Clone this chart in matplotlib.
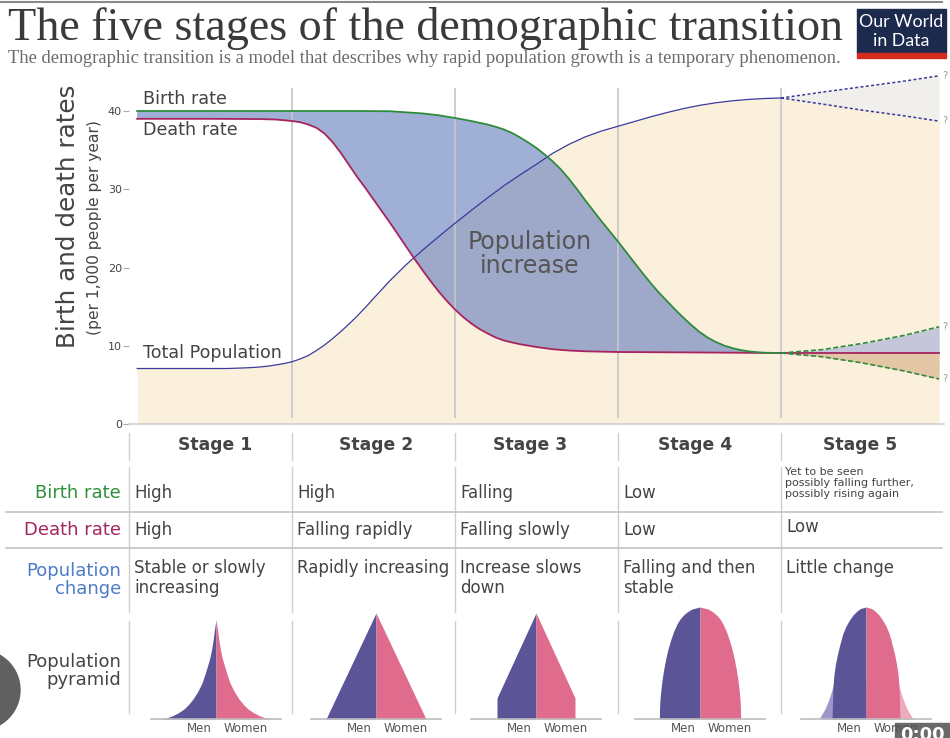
import numpy as np
import matplotlib.pyplot as plt
from matplotlib.patches import Rectangle, Circle

# ---- chart data: x in stage units (stage k spans k-1 .. k) ----
x_birth = [0.05, 0.5, 1.0, 1.4, 1.6, 1.7, 1.8, 1.9, 2.0, 2.1, 2.2, 2.25, 2.3, 2.35, 2.4,
           2.45, 2.5, 2.55, 2.6, 2.65, 2.7, 2.75, 2.8, 2.85, 2.9, 2.95, 3.0, 3.05, 3.1,
           3.15, 3.2, 3.25, 3.3, 3.35, 3.4, 3.45, 3.5, 3.55, 3.6, 3.65, 3.7, 3.75, 3.8,
           3.85, 3.9, 4.0]
birth_rate = [40.0, 40.0, 40.0, 40.0, 39.97, 39.83, 39.69, 39.45, 39.11, 38.72, 38.27,
              37.98, 37.64, 37.19, 36.61, 35.97, 35.27, 34.44, 33.55, 32.52, 31.31, 29.97,
              28.56, 27.22, 25.88, 24.6, 23.32, 21.98, 20.64, 19.3, 18.02, 16.81, 15.72,
              14.63, 13.61, 12.65, 11.76, 11.05, 10.48, 10.03, 9.71, 9.46, 9.29, 9.18,
              9.11, 9.07]

x_death = [0.05, 0.5, 0.8, 0.9, 0.95, 1.0, 1.05, 1.1, 1.15, 1.2, 1.25, 1.3, 1.35, 1.4,
           1.45, 1.5, 1.55, 1.6, 1.65, 1.7, 1.75, 1.8, 1.85, 1.9, 1.95, 2.0, 2.05, 2.1,
           2.15, 2.2, 2.25, 2.3, 2.35, 2.4, 2.5, 2.6, 2.7, 2.8, 3.0, 3.5, 4.0]
death_rate = [39.0, 39.0, 38.97, 38.91, 38.82, 38.72, 38.57, 38.27, 37.85, 37.11, 36.0,
              34.63, 33.1, 31.57, 30.16, 28.69, 27.22, 25.75, 24.22, 22.68, 21.15, 19.68,
              18.27, 16.93, 15.72, 14.63, 13.67, 12.84, 12.14, 11.57, 11.05, 10.67, 10.42,
              10.19, 9.84, 9.55, 9.39, 9.29, 9.2, 9.14, 9.07]

x_pop = [0.05, 0.6, 0.7, 0.75, 0.8, 0.85, 0.9, 0.95, 1.0, 1.05, 1.1, 1.15, 1.2, 1.25,
         1.3, 1.35, 1.4, 1.45, 1.5, 1.6, 1.7, 1.8, 1.9, 2.0, 2.1, 2.2, 2.3, 2.4, 2.5,
         2.6, 2.7, 2.8, 2.9, 3.0, 3.1, 3.2, 3.3, 3.4, 3.5, 3.6, 3.7, 3.8, 3.9, 4.0]
population = [7.09, 7.09, 7.16, 7.21, 7.28, 7.39, 7.54, 7.72, 7.95, 8.31, 8.75, 9.39,
              10.1, 10.93, 11.82, 12.78, 13.8, 14.89, 16.04, 18.3, 20.35, 22.2, 23.95,
              25.65, 27.3, 28.9, 30.45, 31.85, 33.2, 34.6, 35.75, 36.7, 37.45, 38.05,
              38.65, 39.25, 39.8, 40.3, 40.72, 41.05, 41.3, 41.48, 41.6, 41.66]

# stage 5: uncertain futures
x_s5 = [4.0, 4.25, 4.5, 4.75, 4.97]
pop_hi = [41.66, 42.4, 43.1, 43.8, 44.5]
pop_lo = [41.66, 40.9, 40.1, 39.4, 38.7]
birth_hi = [9.07, 9.5, 10.3, 11.3, 12.43]
birth_lo = [9.07, 8.6, 7.8, 6.8, 5.75]
death_s5 = [9.07, 9.07, 9.07, 9.07, 9.07]

y_ticks = [0, 10, 20, 30, 40]
stage_bounds = [1, 2, 3, 4]

# ---- table text ----
stages = ['Stage 1', 'Stage 2', 'Stage 3', 'Stage 4', 'Stage 5']
birth_txt = ['High', 'High', 'Falling', 'Low', '']
death_txt = ['High', 'Falling rapidly', 'Falling slowly', 'Low', 'Low']
change_txt = ['Stable or slowly\nincreasing', 'Rapidly increasing', 'Increase slows\ndown',
              'Falling and then\nstable', 'Little change']
stage5_birth = 'Yet to be seen\npossibly falling further,\npossibly rising again'

# ---- pyramid profiles: height above base vs half width ----
pyr_h = [[0, 1, 3, 6, 10, 15, 20, 27, 36, 45, 53, 61, 69, 78, 86, 93, 99],
         [0, 106],
         [0, 21, 106],
         [0, 10, 20, 30, 40, 50, 60, 70, 80, 88, 95, 100, 104, 107, 110, 112],
         [0, 33, 45, 55, 65, 75, 85, 93, 99, 104, 108, 110.5, 112]]
pyr_w = [[56, 50, 44, 38, 32, 27, 23, 18.5, 14, 11, 8.5, 6.2, 4.5, 3, 2, 1, 0],
         [50, 0],
         [39, 39, 0],
         [40.6, 40.5, 40, 39, 37.8, 36.2, 34.3, 32, 29, 26.2, 23, 20, 16.5, 13, 8, 0],
         [34, 33, 32, 30.5, 28.5, 26, 23.3, 20, 16.5, 13, 9, 5.5, 0]]
wing_h = [0, 5, 10, 15, 20, 26, 33]
wing_w = [47, 44, 41, 39, 37, 35, 33]

W, H = 950, 738
GREEN, CRIMSON, NAVY = '#2e8b3d', '#a8245f', '#3a3a9a'
TXT = '#444444'
MEN, WOMEN = '#5b5597', '#df6c8d'

fig = plt.figure(figsize=(9.5, 7.38), dpi=100)


def px_rect(x0, y0, x1, y1):
    return [x0 / W, 1 - y1 / H, (x1 - x0) / W, (y1 - y0) / H]


def fit_width(t, width):
    r = fig.canvas.get_renderer()
    bb = t.get_window_extent(r)
    t.set_fontsize(t.get_fontsize() * width / bb.width)


# main chart
ax = fig.add_axes(px_rect(129, 424 - 45 * 7.825, 944, 424))
ax.set_xlim(0, 5)
ax.set_ylim(0, 45)
ax.patch.set_alpha(0)

x_floor = np.concatenate([x_pop, x_s5[1:]])
y_floor = np.concatenate([population, pop_lo[1:]])
ax.fill_between(x_floor, 0, y_floor, color='#faf0dc', lw=0, zorder=1)
ax.fill_between(x_s5, pop_lo, pop_hi, color='#f0efeb', lw=0, zorder=1)
ax.fill(np.concatenate([x_birth, x_death[::-1]]), np.concatenate([birth_rate, death_rate[::-1]]),
        color='#6d84bf', alpha=0.65, lw=0, zorder=2)
ax.fill_between(x_s5, death_s5, birth_hi, color='#c5c6da', lw=0, zorder=2)
ax.fill_between(x_s5, birth_lo, death_s5, color='#e3c6a4', lw=0, zorder=2)

ax.vlines(stage_bounds, 0.77, 42.9, color='#c6c6c6', lw=1.2, zorder=3)

ax.plot(x_pop, population, color=NAVY, lw=0.9, zorder=4)
ax.plot(x_death, death_rate, color=CRIMSON, lw=1.3, zorder=5)
ax.plot(x_birth, birth_rate, color=GREEN, lw=1.3, zorder=5)
ax.plot(x_s5, pop_hi, color=NAVY, lw=1.1, ls=(0, (2, 1.5)), zorder=4)
ax.plot(x_s5, pop_lo, color=NAVY, lw=1.1, ls=(0, (2, 1.5)), zorder=4)
ax.plot(x_s5, death_s5, color=CRIMSON, lw=1.3, zorder=5)
ax.plot(x_s5, birth_hi, color=GREEN, lw=1.2, ls=(0, (3, 1.5)), zorder=5)
ax.plot(x_s5, birth_lo, color=GREEN, lw=1.2, ls=(0, (3, 1.5)), zorder=5)

for yv in [pop_hi[-1], pop_lo[-1], birth_hi[-1], birth_lo[-1]]:
    ax.annotate('?', (x_s5[-1], yv), xytext=(2, 0), textcoords='offset points',
                fontsize=7, color='#999999', va='center', annotation_clip=False)

ax.set_yticks(y_ticks)
ax.set_xticks([])
ax.tick_params(axis='y', length=4, width=0.8, color='#aaaaaa', labelsize=8,
               labelcolor=TXT, pad=1)
for s in ['left', 'top', 'right']:
    ax.spines[s].set_visible(False)
ax.spines['bottom'].set_color('#d0d0d0')
ax.spines['bottom'].set_linewidth(1.2)

# pyramids
pyr_cx = [216, 376, 536, 700, 866]
for i, cx in enumerate(pyr_cx):
    pa = fig.add_axes(px_rect(cx - 70, 719 - 116, cx + 70, 719))
    pa.set_xlim(-70, 70)
    pa.set_ylim(0, 116)
    pa.axis('off')
    if i == 4:
        pa.fill_betweenx(wing_h, [-w for w in wing_w], 0, color='#9d98c9', lw=0)
        pa.fill_betweenx(wing_h, 0, wing_w, color='#eeaabf', lw=0)
    pa.fill_betweenx(pyr_h[i], [-w for w in pyr_w[i]], 0, color=MEN, lw=0)
    pa.fill_betweenx(pyr_h[i], 0, pyr_w[i], color=WOMEN, lw=0)
    pa.plot([-65, 65], [0, 0], color='#bdbdbd', lw=1.2, clip_on=False)

# overlay in pixel coordinates for titles and table
lay = fig.add_axes([0, 0, 1, 1])
lay.set_xlim(0, W)
lay.set_ylim(H, 0)
lay.axis('off')
lay.patch.set_alpha(0)
lay.set_zorder(10)

lay.plot([0, 942], [2, 2], color='#8a8a8a', lw=1.5)
t = lay.text(8, 40, 'The five stages of the demographic transition', fontfamily='Liberation Serif',
             fontsize=36, color='#3a3a3a', va='baseline')
fit_width(t, 835)
t = lay.text(8, 63, 'The demographic transition is a model that describes why rapid population '
             'growth is a temporary phenomenon.', fontfamily='Liberation Serif',
             fontsize=12, color='#6b6b6b', va='baseline')
fit_width(t, 832)

lay.add_patch(Rectangle((857, 9), 89, 44, color='#1c2a4e'))
lay.add_patch(Rectangle((857, 53), 89, 5, color='#d42b1e'))
t = lay.text(901.5, 22, 'Our World', fontfamily='Lato', fontsize=13, color='white',
             ha='center', va='center')
fit_width(t, 84)
lay.text(901.5, 41, 'in Data', fontfamily='Lato', fontsize=t.get_fontsize(), color='white',
         ha='center', va='center')

# axis labels and curve labels
lay.text(68, 216, 'Birth and death rates', rotation=90, fontsize=17.7, color=TXT,
         ha='center', va='center')
lay.text(95, 228, '(per 1,000 people per year)', rotation=90, fontsize=11.2, color=TXT,
         ha='center', va='center')
lay.text(143, 99, 'Birth rate', fontsize=12.6, color=TXT, va='center')
lay.text(143, 130, 'Death rate', fontsize=12.6, color=TXT, va='center')
lay.text(143, 353, 'Total Population', fontsize=12.6, color=TXT, va='center')
lay.text(530, 254, 'Population\nincrease', fontsize=17, color='#555555', ha='center',
         va='center', linespacing=1.05)

# table
col_left = [129 + 163 * i for i in range(5)]
hdr_cx = [215, 376, 530, 695, 860]
for cx in col_left:
    for y0, y1 in [(433, 460), (467, 612), (621, 713)]:
        lay.plot([cx, cx], [y0, y1], color='#cfcfcf', lw=1)
for yh in [512, 548]:
    lay.plot([6, 942], [yh, yh], color='#c4c4c4', lw=1.2)

for i in range(5):
    lay.text(hdr_cx[i], 445, stages[i], fontsize=12.3, fontweight='bold', color=TXT,
             ha='center', va='center')
    lay.text(col_left[i] + 5, 493, birth_txt[i], fontsize=12, color=TXT, va='center')
    lay.text(col_left[i] + 5, 530 if i < 4 else 527, death_txt[i], fontsize=12, color=TXT,
             va='center')
    lay.text(col_left[i] + 5, 559, change_txt[i], fontsize=12, color=TXT, va='top',
             linespacing=1.15)
    lay.text(pyr_cx[i] - 4, 729, 'Men', fontsize=8.5, color='#555555', ha='right', va='center')
    lay.text(pyr_cx[i] + 8, 729, 'Women', fontsize=8.5, color='#555555', ha='left', va='center')
lay.text(col_left[4] + 4, 467, stage5_birth, fontsize=8, color=TXT, va='top', linespacing=1.15)

lay.text(121, 493, 'Birth rate', fontsize=13, color='#2f8f3a', ha='right', va='center')
lay.text(121, 530, 'Death rate', fontsize=13, color='#a3265f', ha='right', va='center')
lay.text(121, 580, 'Population\nchange', fontsize=13, color='#4c7cc6', ha='right',
         va='center', linespacing=1.05)
lay.text(121, 671, 'Population\npyramid', fontsize=13, color=TXT, ha='right', va='center',
         linespacing=1.05)

# screen-capture overlays seen in the reference
lay.add_patch(Circle((-20, 690), 40, color='#606060'))
lay.add_patch(Rectangle((895, 723), 60, 20, color='#6a6a6a'))
lay.text(900, 726, '0:00', fontsize=13, color='white', va='top', fontweight='bold')

fig.savefig('out.png', dpi=100, facecolor='white')
